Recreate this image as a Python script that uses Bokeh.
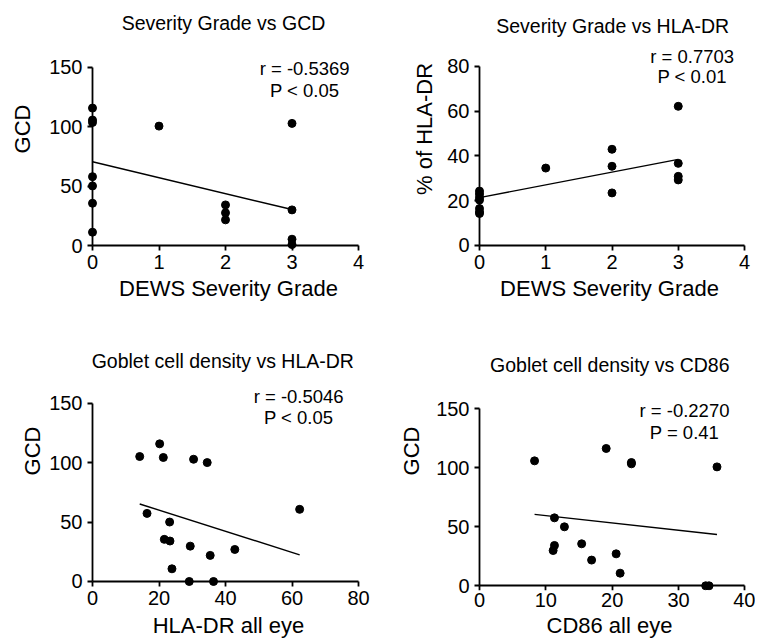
from bokeh.plotting import figure
from bokeh.layouts import column, row
from bokeh.models import Label, FixedTicker, LinearAxis
from bokeh.embed import file_html
from bokeh.resources import INLINE

# ---------------- data ----------------
# Panel 1: DEWS severity grade vs GCD
grade_a = [0, 0, 0, 0, 0, 0, 0, 1, 2, 2, 2, 3, 3, 3, 3]
gcd_a = [115.8, 105.7, 103.7, 58.0, 50.2, 35.6, 11.2, 100.6, 34.2, 27.5, 21.6, 102.9, 30.0, 5.3, 0.8]
fit_a_x = [0, 3]
fit_a_y = [70.6, 30.3]

# Panel 2: DEWS severity grade vs % HLA-DR
grade_b = [0, 0, 0, 0, 0, 0, 0, 1, 2, 2, 2, 3, 3, 3, 3]
hla_b = [24.3, 23.0, 21.5, 20.3, 16.5, 15.0, 14.3, 34.6, 43.0, 35.4, 23.5, 62.2, 36.7, 30.9, 29.3]
fit_b_x = [0, 3]
fit_b_y = [21.4, 38.5]

# Panel 3: HLA-DR all eye vs GCD
hla_c = [14.2, 20.2, 21.3, 30.4, 34.5, 62.3, 16.4, 23.2, 21.6, 23.3, 29.4, 35.4, 42.8, 23.9, 29.1, 36.4]
gcd_c = [105.3, 116.0, 104.5, 103.0, 100.2, 60.8, 57.4, 50.1, 35.5, 34.1, 29.8, 22.0, 27.0, 10.7, 0.0, 0.0]
fit_c_x = [14.2, 62.3]
fit_c_y = [65.3, 22.5]

# Panel 4: CD86 all eye vs GCD
cd86_d = [8.3, 19.1, 22.9, 22.9, 35.8, 11.3, 12.8, 11.3, 11.1, 15.4, 16.9, 20.6, 21.2, 34.1, 34.6]
gcd_d = [105.9, 116.4, 104.5, 103.4, 100.8, 57.6, 50.0, 34.2, 29.9, 35.6, 21.8, 27.1, 10.7, 0.0, 0.0]
fit_d_x = [8.3, 35.8]
fit_d_y = [60.5, 43.5]

titles = ["Severity Grade vs GCD", "Severity Grade vs HLA-DR",
          "Goblet cell density  vs HLA-DR", "Goblet cell density  vs CD86"]
xlabels = ["DEWS Severity Grade", "DEWS Severity Grade", "HLA-DR all eye", "CD86 all eye"]
ylabels = ["GCD", "% of HLA-DR", "GCD", "GCD"]
stats_r = ["r = -0.5369", "r = 0.7703", "r = -0.5046", "r = -0.2270"]
stats_p = ["P < 0.05", "P < 0.01", "P < 0.05", "P = 0.41"]

FONT = "Liberation Sans"


def panel(xs, ys, fx, fy, title, xlabel, ylabel, r_txt, p_txt,
          width, height, mb_left, mb_top, mb_right, mb_bottom,
          x_range, y_range, x_ticks, y_ticks, t_pos, r_pos, p_pos,
          ylab_standoff, xlab_standoff, xtick_standoff):
    p = figure(width=width, height=height, output_backend="svg", toolbar_location=None,
               x_range=x_range, y_range=y_range,
               min_border_left=mb_left, min_border_top=mb_top,
               min_border_right=mb_right, min_border_bottom=mb_bottom)
    p.outline_line_color = None
    p.grid.visible = False
    p.background_fill_color = "white"
    p.border_fill_color = "white"

    # label-only axes at the frame edges
    xa = p.xaxis[0]
    ya = p.yaxis[0]
    for ax, ticks in ((xa, x_ticks), (ya, y_ticks)):
        ax.ticker = FixedTicker(ticks=ticks)
        ax.axis_line_color = None
        ax.major_tick_line_color = None
        ax.major_tick_out = 0
        ax.major_tick_in = 0
        ax.minor_tick_line_color = None
        ax.major_label_text_font = FONT
        ax.major_label_text_font_size = "20px"
        ax.major_label_text_color = "black"
        ax.axis_label_text_font = FONT
        ax.axis_label_text_font_size = "22px"
        ax.axis_label_text_font_style = "normal"
        ax.axis_label_text_color = "black"
    xa.major_label_standoff = xtick_standoff
    ya.major_label_standoff = 2
    xa.axis_label = xlabel
    ya.axis_label = ylabel
    xa.axis_label_standoff = xlab_standoff
    ya.axis_label_standoff = ylab_standoff

    # axis lines and ticks drawn at data zero
    xl = LinearAxis(ticker=FixedTicker(ticks=x_ticks), fixed_location=0,
                    bounds=(x_ticks[0], x_ticks[-1]))
    yl = LinearAxis(ticker=FixedTicker(ticks=y_ticks), fixed_location=0,
                    bounds=(y_ticks[0], y_ticks[-1]))
    for ax in (xl, yl):
        ax.axis_line_width = 1.8
        ax.axis_line_color = "black"
        ax.major_tick_line_width = 1.8
        ax.major_tick_line_color = "black"
        ax.major_tick_out = 0
        ax.major_tick_in = 5
        ax.minor_tick_line_color = None
        ax.major_label_text_font_size = "0px"
        ax.major_label_text_alpha = 0
        ax.major_label_standoff = 0
    p.add_layout(xl, "above")
    p.add_layout(yl, "right")

    p.line(fx, fy, line_color="black", line_width=1.4)
    p.scatter(xs, ys, size=8, color="black")

    p.add_layout(Label(x=t_pos[0], y=t_pos[1], text=title, text_align="center",
                       text_baseline="middle", text_font=FONT, text_font_size="19.5px",
                       text_color="black"))
    p.add_layout(Label(x=r_pos[0], y=r_pos[1], text=r_txt, text_align="center",
                       text_baseline="middle", text_font=FONT, text_font_size="18.5px",
                       text_color="black"))
    p.add_layout(Label(x=p_pos[0], y=p_pos[1], text=p_txt, text_align="center",
                       text_baseline="middle", text_font=FONT, text_font_size="18.5px",
                       text_color="black"))
    return p


p1 = panel(grade_a, gcd_a, fit_a_x, fit_a_y, titles[0], xlabels[0], ylabels[0], stats_r[0], stats_p[0],
           380, 305, 84, 6, 8, 54, (-0.1203, 4.2105), (-5.056, 201.4),
           [0, 1, 2, 3, 4], [0, 50, 100, 150], (1.97, 187.9), (3.19, 149), (3.19, 130.6),
           11, 4, 3)
p2 = panel(grade_b, hla_b, fit_b_x, fit_b_y, titles[1], xlabels[1], ylabels[1], stats_r[1], stats_p[1],
           375, 305, 91, 6, 8, 54, (-0.1208, 4.045), (-2.682, 106.8),
           [0, 1, 2, 3, 4], [0, 20, 40, 60, 80], (2.01, 98.3), (3.21, 84.5), (3.21, 75.5),
           7, 4, 3)
p3 = panel(hla_c, gcd_c, fit_c_x, fit_c_y, titles[2], xlabels[2], ylabels[2], stats_r[2], stats_p[2],
           380, 338, 84, 6, 8, 53, (-2.406, 84.21), (-7.584, 227.5),
           [0, 20, 40, 60, 80], [0, 50, 100, 150], (40.0, 185.4), (62, 156), (62, 138),
           1, 5, 0)
p4 = panel(cd86_d, gcd_d, fit_d_x, fit_d_y, titles[3], xlabels[3], ylabels[3], stats_r[3], stats_p[3],
           375, 338, 91, 6, 8, 53, (-1.206, 40.40), (-3.98, 232.5),
           [0, 10, 20, 30, 40], [0, 50, 100, 150], (20.05, 187.5), (30.9, 148.6), (30.9, 130),
           9, 3, 2)

layout = column(row(p1, p2), row(p3, p4))
open("out.html", "w").write(file_html(layout, INLINE))
